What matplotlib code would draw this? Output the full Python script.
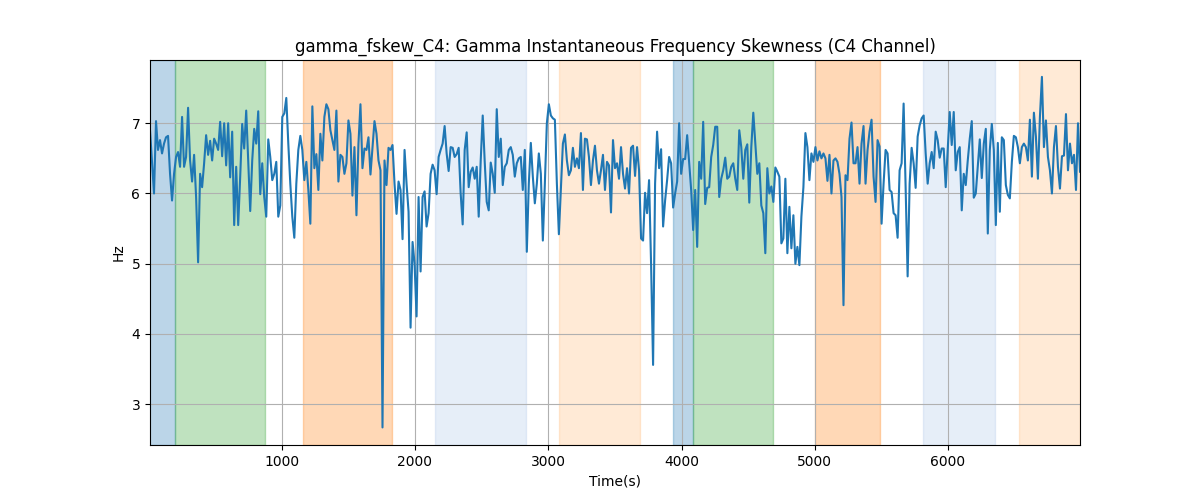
import numpy as np
import matplotlib
matplotlib.use("Agg")
import matplotlib.pyplot as plt

t_start = 12
t_end = 6990

values = [
    6.90, 6.45, 6.0, 7.03, 6.62, 6.76, 6.57, 6.71, 6.8, 6.82, 6.28, 5.9, 6.28, 6.52, 6.59, 6.38, 7.09, 6.38, 6.52, 7.22,
    6.47, 6.17, 6.55, 5.95, 5.02, 6.28, 6.09, 6.43, 6.83, 6.55, 6.75, 6.47, 6.78, 6.71, 6.62, 7.02, 6.53, 7.0, 6.4, 7.0,
    6.23, 6.88, 5.55, 6.38, 5.55, 6.24, 6.99, 6.64, 7.18, 6.47, 5.75, 6.47, 6.92, 6.71, 7.17, 5.99, 6.43, 5.95, 5.67, 6.77,
    6.52, 6.19, 6.28, 6.45, 5.67, 5.83, 7.09, 7.14, 7.36, 6.71, 6.14, 5.67, 5.37, 6.14, 6.62, 6.82, 6.62, 6.19, 6.45, 6.05,
    5.57, 7.24, 6.36, 6.56, 6.05, 6.85, 6.47, 7.09, 7.27,
    7.2, 6.9, 6.76, 6.62, 7.18, 6.17, 6.55, 6.52, 6.28, 6.43, 7.04, 6.85, 5.97, 6.66, 5.69, 6.71, 7.27, 6.36, 6.64, 6.62, 6.8,
    6.27, 6.66, 7.03, 6.85, 6.47, 6.33, 2.67, 6.47, 6.12, 6.65, 6.62, 6.69, 6.14, 5.71, 6.17, 6.05, 5.35, 6.62, 6.14, 5.74,
    4.09, 5.31, 5.0, 4.25, 5.95, 4.89, 5.95, 6.03, 5.53, 5.72, 6.28, 6.41, 6.33, 5.99, 6.52, 6.62, 6.71, 6.96, 6.57, 6.32,
    6.66, 6.65, 6.52, 6.56, 6.65, 6.0, 5.56, 6.62, 6.87, 6.09, 6.31, 6.37, 6.21, 6.38, 5.67, 6.47, 7.11, 6.45, 5.88, 5.76,
    6.44, 6.28, 6.01, 7.2, 6.52, 6.78, 6.12, 6.38, 6.43, 6.62, 6.66, 6.55, 6.24, 6.43,
    6.5, 6.52, 6.05, 6.62, 5.17, 6.14, 6.72, 6.24, 5.86, 6.14, 6.57, 6.28, 5.33, 6.14, 7.0, 7.27, 7.11, 7.07, 7.05, 6.14,
    5.42, 6.05, 6.71, 6.84, 6.47, 6.26, 6.33, 6.65, 6.38, 6.5, 6.36, 6.86, 6.05, 6.78, 6.77, 6.52, 6.12, 6.47, 6.68, 6.33,
    6.14, 6.33, 6.55, 6.05, 6.45, 6.4, 5.73, 6.76, 6.36, 6.43, 6.21, 6.66, 6.28, 6.07, 6.36, 6.0, 6.65, 6.68, 6.25, 6.66,
    6.33, 5.36, 5.33, 6.01, 5.72, 6.19, 5.0, 3.56, 6.14, 6.88, 6.36, 6.63, 5.53, 5.9, 6.19, 6.52, 6.43, 5.8, 6.0, 6.17,
    7.0, 6.28, 6.49, 6.49, 6.83, 6.43, 6.05, 5.48, 6.05, 5.24, 6.45, 6.21, 7.02, 5.85, 6.08,
    6.09, 6.52, 6.69, 6.95, 6.95, 5.95, 6.21, 6.33, 6.51, 6.21, 6.24, 6.38, 6.43, 6.21, 6.05, 6.9, 6.66, 6.21, 6.62, 6.7,
    5.87, 6.66, 7.15, 6.71, 6.28, 6.43, 5.83, 5.72, 5.15, 6.36, 6.0, 6.1, 5.88, 6.37, 6.31, 6.24, 5.29, 5.36, 6.21, 5.15,
    5.81, 5.22, 5.69, 5.0, 5.24, 4.98, 5.67, 6.09, 6.86, 6.66, 6.19, 6.57, 6.45, 6.66, 6.47, 6.6, 6.5, 6.57, 6.5, 6.18,
    6.55, 6.0, 6.47, 6.5, 6.45, 6.28, 5.95, 4.41, 6.26, 6.19, 6.78, 7.01, 6.43, 6.43, 6.66, 6.14, 6.71, 6.96, 6.14, 6.62,
    6.88, 7.05, 6.24, 5.88, 6.76, 6.67, 5.57, 6.14, 6.62, 6.57, 6.05, 6.02, 5.72, 5.69, 5.37,
    6.33, 6.43, 7.28, 6.09, 4.82, 6.14, 6.65, 6.43, 6.08, 6.81, 6.97, 7.07, 7.11, 6.57, 6.14, 6.43, 6.59, 6.36, 6.88, 6.76,
    6.51, 6.64, 6.64, 6.09, 6.62, 7.16, 6.69, 7.16, 6.33, 6.59, 6.66, 5.76, 6.28, 6.12, 6.47, 6.78, 7.03, 5.94, 6.0, 6.38,
    6.77, 6.22, 6.71, 6.92, 5.43, 6.62, 6.99, 6.62, 5.55, 6.72, 5.74, 6.8, 6.76, 6.12, 5.98, 5.93, 6.45, 6.82, 6.8, 6.66,
    6.43, 6.66, 6.71, 6.66, 6.47, 7.05, 6.24, 7.15, 6.81, 6.21, 7.09, 7.66, 6.66, 7.04, 6.52, 6.33, 6.0, 6.66, 6.96, 6.38,
    6.07, 6.53, 6.54, 7.13, 6.33, 6.71, 6.43, 6.55, 6.05, 7.0, 6.31,
]

# shaded intervals: (start, end, color)
span_starts = [0, 196, 1158, 2149, 3081, 3936, 4086, 5002, 5812, 6533]
span_ends = [196, 872, 1826, 2833, 3689, 4086, 4686, 5490, 6353, 6990]
span_colors = ["tab:blue", "tab:green", "tab:orange", "#aec7e8", "#ffbb78",
               "tab:blue", "tab:green", "tab:orange", "#aec7e8", "#ffbb78"]

t = np.linspace(t_start, t_end, len(values))

fig, ax = plt.subplots(figsize=(12, 5), dpi=100)
for s, e, c in zip(span_starts, span_ends, span_colors):
    ax.axvspan(s, e, color=c, alpha=0.3)
ax.plot(t, values, color="tab:blue", linewidth=1.5)
ax.set_xlim(t[0], t[-1])
ax.set_ylim(2.42, 7.9)
ax.grid(True)
ax.set_title("gamma_fskew_C4: Gamma Instantaneous Frequency Skewness (C4 Channel)")
ax.set_xlabel("Time(s)")
ax.set_ylabel("Hz")
fig.savefig("out.png")
